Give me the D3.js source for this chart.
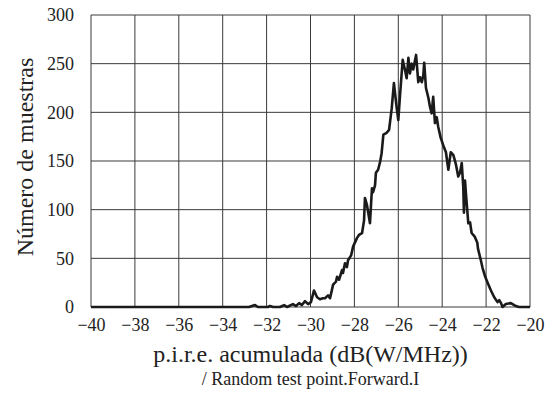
<!DOCTYPE html>
<html lang="es">
<head>
  <meta charset="UTF-8">
  <title>p.i.r.e. acumulada</title>
  <script src="https://d3js.org/d3.v7.min.js"></script>
  <style>
    body { margin: 0; background: #fff; }
    svg { display: block; font-family: "Liberation Serif", "Times New Roman", serif; }
    .grid line { stroke: #3a3a3a; stroke-width: 1; }
    .axis text { font-family: "Liberation Serif", "Times New Roman", serif; font-size: 18px; fill: #222; }
    .axis path, .axis line { display: none; }
    .title { font-size: 24px; fill: #222; }
    .subtitle { font-size: 18px; fill: #222; }
  </style>
</head>
<body>
  <svg width="546" height="405"></svg>

  <script>
    // p.i.r.e. acumulada (dB(W/MHz))
    const pire = [
      -40, -32.8, -32.53, -32.39, -31.94, -31.85, -31.7, -31.39, -31.2, -31.07,
      -30.8, -30.66, -30.52, -30.39, -30.25, -30.11, -29.98, -29.84, -29.7, -29.57,
      -29.43, -29.34, -29.2, -29.11, -28.97, -28.84, -28.79, -28.7, -28.56, -28.52,
      -28.43, -28.34, -28.29, -28.15, -28.06, -27.88, -27.79, -27.65, -27.56, -27.52,
      -27.43, -27.29, -27.2, -27.15, -27.06, -27.02, -26.92, -26.83, -26.76, -26.68,
      -26.53, -26.42, -26.3, -26.2, -26.07, -26.0, -25.92, -25.8, -25.69, -25.62,
      -25.54, -25.47, -25.39, -25.32, -25.19, -25.09, -25.01, -24.93, -24.86, -24.82,
      -24.74, -24.63, -24.56, -24.48, -24.41, -24.33, -24.25, -24.18, -24.07, -23.95,
      -23.83, -23.72, -23.61, -23.49, -23.37, -23.27, -23.19, -23.11, -23.04, -23.01,
      -22.96, -22.92, -22.81, -22.73, -22.66, -22.51, -22.4, -22.37, -22.24, -22.16,
      -22.04, -21.93, -21.78, -21.63, -21.48, -21.4, -21.32, -21.25, -21.1, -20.87,
      -20.72, -20.64, -20.5, -20
    ];
    // Número de muestras
    const muestras = [
      0, 0, 2, 0, 0, 1, 0, 0, 2, 0,
      3, 1, 4, 2, 6, 3, 5, 17, 10, 8,
      9, 9, 12, 9, 23, 26, 31, 28, 38, 35,
      45, 41, 48, 53, 62, 71, 74, 76, 89, 112,
      105, 86, 122, 118, 125, 138, 141, 149, 158, 177,
      179, 182, 204, 230, 204, 192, 218, 254, 243, 235,
      256, 240, 250, 244, 259, 231, 236, 231, 238, 251,
      225, 215, 206, 199, 216, 189, 195, 185, 174, 166,
      159, 141, 159, 156, 146, 134, 138, 148, 123, 97,
      130, 117, 86, 87, 76, 72, 66, 60, 48, 40,
      31, 25, 17, 10, 5, 7, 4, 0, 3, 4,
      2, 1, 0, 0
    ];
    const xTicks = d3.range(-40, -19, 2);
    const yTicks = [0, 50, 100, 150, 200, 250, 300];

    const margin = { top: 15, right: 16, bottom: 98, left: 91 };
    const width = 546 - margin.left - margin.right;
    const height = 405 - margin.top - margin.bottom;

    const svg = d3.select('svg')
      .append('g')
      .attr('transform', `translate(${margin.left}, ${margin.top})`);

    const x = d3.scaleLinear().domain([-40, -20]).range([0, width]);
    const y = d3.scaleLinear().domain([0, 300]).range([height, 0]);

    const grid = svg.append('g').attr('class', 'grid');
    grid.selectAll('.gx')
      .data(xTicks)
      .enter()
      .append('line')
      .attr('x1', d => x(d)).attr('x2', d => x(d))
      .attr('y1', 0).attr('y2', height);
    grid.selectAll('.gy')
      .data(yTicks)
      .enter()
      .append('line')
      .attr('x1', 0).attr('x2', width)
      .attr('y1', d => y(d)).attr('y2', d => y(d));

    svg.append('g')
      .attr('class', 'axis')
      .attr('transform', `translate(0, ${height})`)
      .call(d3.axisBottom(x).tickValues(xTicks).tickSize(0).tickPadding(11));

    svg.append('g')
      .attr('class', 'axis')
      .call(d3.axisLeft(y).tickValues(yTicks).tickSize(0).tickPadding(17));

    const line = d3.line()
      .x((d, i) => x(pire[i]))
      .y(d => y(d));

    svg.append('path')
      .datum(muestras)
      .attr('fill', 'none')
      .attr('stroke', '#1a1a1a')
      .attr('stroke-width', 2.6)
      .attr('stroke-linejoin', 'round')
      .attr('d', line);

    svg.append('text')
      .attr('class', 'title')
      .attr('text-anchor', 'middle')
      .attr('x', width / 2)
      .attr('y', height + 55)
      .text('p.i.r.e. acumulada (dB(W/MHz))');

    svg.append('text')
      .attr('class', 'subtitle')
      .attr('text-anchor', 'middle')
      .attr('x', width / 2)
      .attr('y', height + 78)
      .text('/ Random test point.Forward.I');

    svg.append('text')
      .attr('class', 'title')
      .attr('text-anchor', 'middle')
      .attr('transform', `translate(${33 - margin.left}, ${height / 2 - 4}) rotate(-90)`)
      .text('Número de muestras');
  </script>
</body>
</html>
